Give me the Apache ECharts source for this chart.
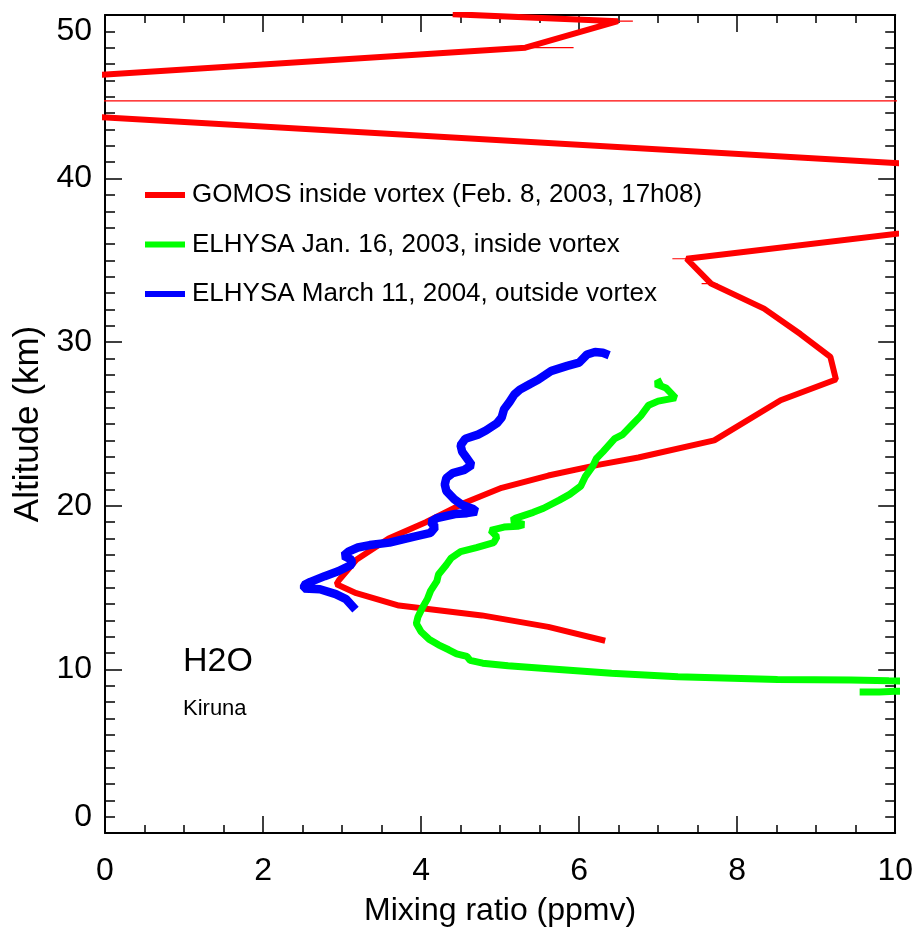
<!DOCTYPE html>
<html><head><meta charset="utf-8">
<script src="https://cdn.jsdelivr.net/npm/echarts@6/dist/echarts.min.js"></script>
<style>html,body{margin:0;padding:0;background:#fff}#c{width:916px;height:937px}</style>
</head><body><div id="c"></div>
<script>
// ---- data (value in ppmv, altitude in km) ----
const seriesNames = [
  'GOMOS inside vortex (Feb. 8, 2003, 17h08)',
  'ELHYSA Jan. 16, 2003, inside vortex',
  'ELHYSA March 11, 2004, outside vortex'
];
const xTicks = [0, 2, 4, 6, 8, 10];
const yTicks = [0, 10, 20, 30, 40, 50];

const gomos = [
  [4.4,50.05],[6.49,49.62],[5.32,48.0],[-3,45.44],[-3,44.58],[12,40.39],[12,37.76],
  [7.36,35.1],[7.67,33.58],[8.34,32.05],[8.80,30.5],[9.18,29.1],[9.25,27.72],[8.55,26.45],
  [7.71,24.0],[6.75,22.95],[6.24,22.5],[5.61,21.85],[5.02,21.1],[4.56,20.2],[4.06,19.0],
  [3.59,18.0],[3.18,16.7],[2.96,15.45],[2.93,15.2],[3.18,14.66],[3.72,13.9],[4.77,13.3],
  [5.61,12.6],[6.33,11.75]
];
// thin (unthickened) GOMOS segments
const gomosThin = [
  [[-3,44.75],[12,44.75]],
  [[6.49,49.62],[6.68,49.62]],
  [[5.32,48.0],[5.93,48.0]],
  [[7.18,35.1],[7.36,35.1]],
  [[7.55,33.58],[7.75,33.58]]
];
const elhysa2003 = [
  [7.05,27.65],[6.97,27.45],[7.1,27.2],[7.22,26.6],[7.0,26.4],[6.88,26.15],[6.78,25.5],
  [6.68,25.0],[6.55,24.35],[6.45,24.1],[6.3,23.3],[6.22,22.9],[6.17,22.4],[6.08,21.8],
  [6.02,21.2],[5.88,20.7],[5.75,20.35],[5.55,19.85],[5.42,19.6],[5.2,19.25],[5.15,19.1],
  [5.3,18.85],[5.22,18.75],[5.05,18.7],[4.88,18.5],[4.96,18.1],[4.92,17.75],[4.7,17.45],
  [4.5,17.2],[4.38,16.8],[4.32,16.4],[4.22,15.8],[4.2,15.4],[4.12,14.8],[4.08,14.3],
  [4.02,13.8],[3.96,13.2],[3.94,12.8],[4.0,12.3],[4.1,11.85],[4.22,11.5],[4.35,11.2],
  [4.45,10.95],[4.58,10.8],[4.62,10.55],[4.78,10.38],[5.1,10.22],[5.57,10.06],[6.41,9.76],
  [7.25,9.55],[8.51,9.39],[9.44,9.35],[9.92,9.30],[11.5,9.2],[11.5,8.7],[10.0,8.66],
  [9.8,8.62],[9.55,8.62]
];
const elhysa2004 = [
  [6.38,29.2],[6.3,29.35],[6.2,29.4],[6.1,29.25],[6.0,28.75],[5.85,28.55],[5.65,28.25],
  [5.48,27.7],[5.38,27.45],[5.25,27.1],[5.18,26.8],[5.12,26.35],[5.05,25.9],[5.02,25.4],
  [4.96,25.05],[4.82,24.6],[4.72,24.35],[4.56,24.1],[4.5,23.7],[4.52,23.3],[4.58,22.9],
  [4.64,22.5],[4.55,22.2],[4.4,22.0],[4.32,21.7],[4.3,21.3],[4.32,20.9],[4.42,20.4],
  [4.52,20.05],[4.66,19.8],[4.7,19.65],[4.58,19.55],[4.43,19.5],[4.2,19.25],[4.12,19.0],
  [4.18,18.7],[4.12,18.35],[3.9,18.1],[3.6,17.75],[3.35,17.6],[3.2,17.45],[3.08,17.2],
  [3.02,16.95],[3.12,16.7],[3.12,16.4],[2.95,16.0],[2.78,15.7],[2.6,15.35],[2.52,15.15],
  [2.52,14.95],[2.72,14.9],[2.92,14.6],[3.05,14.3],[3.17,13.65]
];

const FONT = 'Liberation Sans';
const black = '#000';
function xAx(pos, showLabel) {
  return {
    type: 'value', position: pos, min: 0, max: 10, interval: 2,
    axisLine: {show: true, onZero: false, lineStyle: {color: black, width: 2}},
    axisTick: {show: true, inside: true, length: 17, lineStyle: {color: black, width: 1.5}},
    minorTick: {show: true, splitNumber: 4, length: 8, lineStyle: {color: black, width: 1.5}},
    splitLine: {show: false}, minorSplitLine: {show: false},
    axisLabel: {show: showLabel, fontSize: 32, fontFamily: FONT, color: black, margin: 22,
      customValues: xTicks},
    name: showLabel ? 'Mixing ratio (ppmv)' : '', nameLocation: 'middle', nameGap: 62,
    nameTextStyle: {fontSize: 32, fontFamily: FONT, color: black}
  };
}
function yAx(pos, showLabel) {
  return {
    type: 'value', position: pos, min: 0, max: 50, interval: 10,
    axisLine: {show: true, onZero: false, lineStyle: {color: black, width: 2}},
    axisTick: {show: true, inside: true, length: 17, lineStyle: {color: black, width: 1.5}},
    minorTick: {show: true, splitNumber: 10, length: 10, lineStyle: {color: black, width: 1.5}},
    splitLine: {show: false}, minorSplitLine: {show: false},
    axisLabel: {show: showLabel, fontSize: 32, fontFamily: FONT, color: black, margin: 13,
      customValues: showLabel ? yTicks : undefined,
      verticalAlignMinLabel: 'bottom', verticalAlignMaxLabel: 'top'},
    name: showLabel ? 'Altitude (km)' : '', nameLocation: 'middle', nameGap: 45, nameRotate: 90,
    nameTextStyle: {fontSize: 35, fontFamily: FONT, color: black}
  };
}

const series = [
  {name: seriesNames[0], type: 'line', data: gomos, color: '#ff0000',
   lineStyle: {width: 6, color: '#ff0000'}},
  {name: seriesNames[1], type: 'line', data: elhysa2003, color: '#00ff00',
   lineStyle: {width: 7, color: '#00ff00'}},
  {name: seriesNames[2], type: 'line', data: elhysa2004, color: '#0000ff',
   lineStyle: {width: 8.5, color: '#0000ff'}}
].map(s => Object.assign({symbol: 'none', showSymbol: false, clip: true, smooth: false,
   xAxisIndex: 0, yAxisIndex: 0, silent: true, z: 3}, s));
gomosThin.forEach((seg, i) => series.splice(1 + i, 0, {
  name: 'thin' + i, type: 'line', data: seg, symbol: 'none', clip: true, silent: true,
  lineStyle: {width: 1.2, color: '#ff0000'}, z: 2
}));

const chart = echarts.init(document.getElementById('c'), null, {renderer: 'canvas'});
chart.setOption({
  animation: false,
  backgroundColor: '#fff',
  grid: {left: 105, top: 15, width: 793, height: 818, containLabel: false},
  xAxis: [xAx('bottom', true), xAx('top', false)],
  yAxis: [yAx('left', true), yAx('right', false)],
  legend: {
    orient: 'vertical', left: 140, top: 175, itemWidth: 40, itemHeight: 6, itemGap: 19.5,
    icon: 'rect', data: seriesNames, selectedMode: false,
    textStyle: {fontSize: 26, fontFamily: FONT, color: black, lineHeight: 30, padding: [0, 0, 0, 2]}
  },
  graphic: [
    {type: 'text', left: 183, top: 645, style: {text: 'H2O', font: '34px "Liberation Sans"', fill: black}},
    {type: 'text', left: 183, top: 698, style: {text: 'Kiruna', font: '22px "Liberation Sans"', fill: black}}
  ],
  series: series
});
</script>
</body></html>
